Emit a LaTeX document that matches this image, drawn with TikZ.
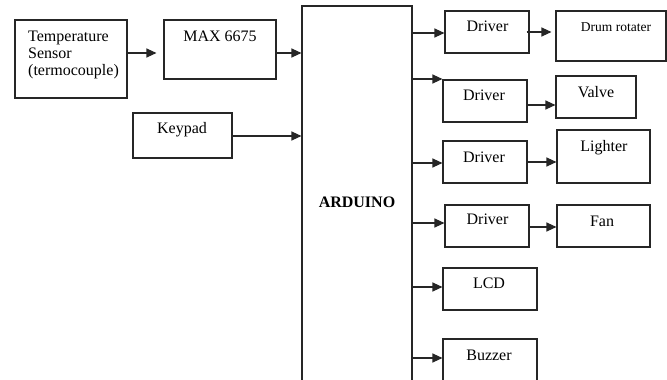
\documentclass[tikz,border=0pt]{standalone}
\usepackage{fontspec}
\setmainfont{Liberation Serif}
\usetikzlibrary{arrows.meta}
\begin{document}
\begin{tikzpicture}[x=1pt,y=-1pt,
  box/.style={draw=black!85,line width=1.1pt,inner sep=0pt,minimum width=#1},
  lbl/.style={anchor=base,inner sep=0pt,font=\fontsize{16}{17}\selectfont},
  arr/.style={draw=black!85,line width=1.1pt,-{Triangle[length=10pt,width=9pt]}}]
\clip (0,0) rectangle (667,380);
\fill[white] (0,0) rectangle (667,380);
% boxes
\node[box=112pt,minimum height=78pt] (temp) at (71,59) {};
\node[box=112pt,minimum height=59pt] (max) at (220,49.5) {};
\node[box=99pt,minimum height=45pt] (key) at (182.5,135.5) {};
\node[box=110pt,minimum height=389pt] (ard) at (357,200.5) {};
\node[box=84pt,minimum height=42pt] (d1) at (487,32) {};
\node[box=110pt,minimum height=50pt] (drum) at (611,36) {};
\node[box=84pt,minimum height=42pt] (d2) at (485,101) {};
\node[box=80pt,minimum height=42pt] (valve) at (596,97) {};
\node[box=84pt,minimum height=42pt] (d3) at (485,162) {};
\node[box=93pt,minimum height=53pt] (light) at (603.5,156.5) {};
\node[box=84pt,minimum height=42pt] (d4) at (487,226) {};
\node[box=93pt,minimum height=42pt] (fan) at (603.5,226) {};
\node[box=94pt,minimum height=42pt] (lcd) at (490,289) {};
\node[box=94pt,minimum height=51pt] (buz) at (490,364.5) {};
% labels
\node[lbl,anchor=base west] (tempA) at (28,41) {Temperature};
\node[lbl,anchor=base west] (tempB) at (28,58) {Sensor};
\node[lbl,anchor=base west] (tempC) at (28,75) {(termocouple)};
\node[lbl] (maxT) at (220,41) {MAX 6675};
\node[lbl] (keyT) at (182,133) {Keypad};
\node[lbl,font=\fontsize{16}{17}\selectfont\bfseries] (ardT) at (357,207) {ARDUINO};
\node[lbl] (d1T) at (487.5,31) {Driver};
\node[lbl,font=\fontsize{13.5}{15}\selectfont] (drumT) at (616,31) {Drum rotater};
\node[lbl] (d2T) at (484,100) {Driver};
\node[lbl] (valveT) at (596,97) {Valve};
\node[lbl] (d3T) at (484,162) {Driver};
\node[lbl] (lightT) at (604,151) {Lighter};
\node[lbl] (d4T) at (487.5,224) {Driver};
\node[lbl] (fanT) at (602,226) {Fan};
\node[lbl] (lcdT) at (489,288) {LCD};
\node[lbl] (buzT) at (489,360) {Buzzer};
% connectors
\draw[arr] (temp.east |- 0,53) -- ([xshift=-7pt]max.west |- 0,53);
\draw[arr] (max.east |- 0,53) -- (ard.west |- 0,53);
\draw[arr] (key.east |- 0,136) -- (ard.west |- 0,136);
\draw[arr] (ard.east |- 0,33) -- (d1.west |- 0,33);
\draw[arr] ([xshift=-3pt]d1.east |- 0,32) -- ([xshift=-4pt]drum.west |- 0,32);
\draw[arr] (ard.east |- 0,79) -- (d2.west |- 0,79);
\draw[arr] (d2.east |- 0,105) -- (valve.west |- 0,105);
\draw[arr] (ard.east |- 0,163) -- (d3.west |- 0,163);
\draw[arr] (d3.east |- 0,162) -- (light.west |- 0,162);
\draw[arr] (ard.east |- 0,223) -- (d4.west |- 0,223);
\draw[arr] (d4.east |- 0,227) -- (fan.west |- 0,227);
\draw[arr] (ard.east |- 0,287) -- (lcd.west |- 0,287);
\draw[arr] (ard.east |- 0,358) -- (buz.west |- 0,358);
\end{tikzpicture}
\end{document}
